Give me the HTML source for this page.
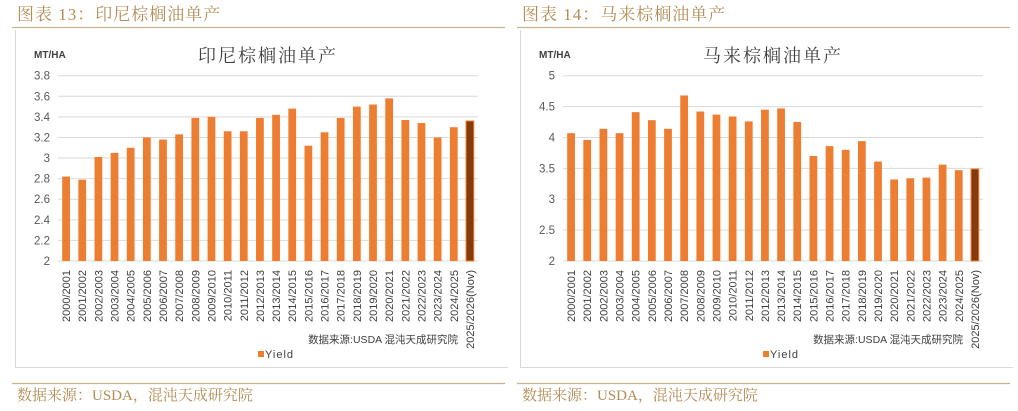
<!DOCTYPE html>
<html><head><meta charset="utf-8"><style>
body{margin:0;background:#fff;width:1018px;height:406px;overflow:hidden;font-family:"Liberation Sans","Noto Sans CJK SC",sans-serif;}
svg text{font-family:"Liberation Sans","Noto Sans CJK SC",sans-serif;}
svg text.serif{font-family:"Liberation Serif","Noto Serif CJK SC",serif;}
</style></head><body>
<svg id="root" width="1018" height="406"></svg>
<script>
const categories=["2000/2001","2001/2002","2002/2003","2003/2004","2004/2005","2005/2006","2006/2007","2007/2008","2008/2009","2009/2010","2010/2011","2011/2012","2012/2013","2013/2014","2014/2015","2015/2016","2016/2017","2017/2018","2018/2019","2019/2020","2020/2021","2021/2022","2022/2023","2023/2024","2024/2025","2025/2026(Nov)"];
const idnYield=[2.82,2.79,3.01,3.05,3.10,3.20,3.18,3.23,3.39,3.40,3.26,3.26,3.39,3.42,3.48,3.12,3.25,3.39,3.50,3.52,3.58,3.37,3.34,3.20,3.30,3.36];
const myYield=[4.07,3.96,4.14,4.07,4.41,4.28,4.14,4.68,4.42,4.37,4.34,4.26,4.45,4.47,4.25,3.70,3.86,3.80,3.94,3.61,3.32,3.34,3.35,3.56,3.47,3.49];
const idnTicks=[2,2.2,2.4,2.6,2.8,3,3.2,3.4,3.6,3.8];
const myTicks=[2,2.5,3,3.5,4,4.5,5];
const NS="http://www.w3.org/2000/svg";
const root=document.getElementById('root');
function mk(tag,attrs,parent,text){const e=document.createElementNS(NS,tag);for(const k in attrs)e.setAttribute(k,attrs[k]);if(text!==undefined)e.textContent=text;(parent||root).appendChild(e);return e;}
function drawPanel(ox,num,title,vals,ticks){
  const g=mk('g',{});
  
  
  const h=mk('text',{x:ox+2,y:20,'font-size':17,fill:'#b48c55','letter-spacing':'1',class:'serif'},g,'图表 '+num+'：'+title);
  
  
  mk('line',{x1:ox-3,x2:ox+490,y1:27.5,y2:27.5,stroke:'#c8b48c','stroke-width':1.2},g);
  mk('line',{x1:ox-3,x2:ox+490,y1:383.5,y2:383.5,stroke:'#c8b48c','stroke-width':1.2},g);
  const f=mk('text',{x:ox+2,y:400,'font-size':15,fill:'#b48c55',class:'serif'},g,'数据来源：USDA，混沌天成研究院');
  
  
  mk('line',{x1:ox+0.5,x2:ox+0.5,y1:30,y2:368,stroke:'#d9d9d9'},g);
  mk('line',{x1:ox,x2:ox+493,y1:367.5,y2:367.5,stroke:'#d9d9d9'},g);
  const x0=ox+43,x1=ox+463,yTop=75.7,yBot=261;
  const lo=ticks[0],hi=ticks[ticks.length-1];
  const y=v=>yBot-(v-lo)/(hi-lo)*(yBot-yTop);
  const n=vals.length,cw=(x1-x0)/n,bw=cw*0.48;
  const u=mk('text',{x:ox+19,y:58,'font-size':10,'font-weight':'bold',fill:'#404040'},g,'MT/HA');
  
  
  const t=mk('text',{x:(x0+x1)/2,y:62,'font-size':18,fill:'#404040','text-anchor':'middle','letter-spacing':'2',class:'serif'},g,title);
  
  
  ticks.forEach(v=>{
    mk('line',{x1:x0,x2:x1,y1:y(v),y2:y(v),stroke:'#d9d9d9','stroke-width':1},g);
    const tl=mk('text',{x:x0-8,y:y(v)+4,'font-size':11.5,fill:'#595959','text-anchor':'end'},g,String(v));
    
    
  });
  vals.forEach((v,i)=>{
    const last=i===n-1;
    const r=mk('rect',{x:x0+i*cw+(cw-bw)/2,y:y(v),width:bw,height:yBot-y(v),fill:last?'#843c0c':'#ed7d31',stroke:last?'#ed7d31':'none','stroke-width':last?1:0},g);
    
    
    const cx=x0+i*cw+cw/2+4;
    const lb=mk('text',{transform:`translate(${cx},270) rotate(-90)`,'font-size':11,fill:'#404040','text-anchor':'end'},g,categories[i]);
    
    
  });
  const s=mk('text',{x:ox+443,y:343,'font-size':10.5,fill:'#404040','text-anchor':'end'},g,'数据来源:USDA   混沌天成研究院');
  
  
  const lg=mk('g',{},g);
  
  
  mk('rect',{x:ox+243,y:351,width:6,height:6,fill:'#ed7d31'},lg);
  mk('text',{x:ox+250,y:358,'font-size':11,fill:'#404040','letter-spacing':'1'},lg,'Yield');
}
drawPanel(15,13,'印尼棕榈油单产',idnYield,idnTicks);
drawPanel(520,14,'马来棕榈油单产',myYield,myTicks);
</script>
</body></html>
